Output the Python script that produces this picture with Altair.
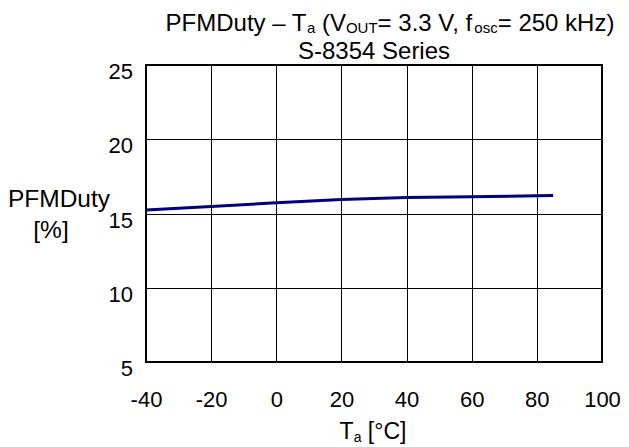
import altair as alt
import pandas as pd

# ---- data ----
temps = [-40, -20, 0, 20, 40, 60, 80, 85]
duty = [15.23, 15.47, 15.72, 15.94, 16.08, 16.12, 16.19, 16.22]
x_ticks = [-40, -20, 0, 20, 40, 60, 80, 100]
y_ticks = [5, 10, 15, 20, 25]
title_line1 = [("PFMDuty \u2013 T", "main"), ("a", "sub"), (" (V", "main"),
               ("OUT", "sub"), ("= 3.3 V, f", "main"), ("osc", "sub"),
               ("= 250 kHz)", "main")]
title_line2 = [("S-8354 Series", "main")]
x_title = [("T", "main"), ("a", "sub"), (" [\u00b0C]", "main")]
y_title_1 = [("PFMDuty", "main")]
y_title_2 = [("[%]", "main")]

FONT = "Liberation Sans"
W, H = 456, 297

# Arial / Liberation Sans advance widths (per 1000 em)
AW = {' ': 278, 'P': 667, 'F': 611, 'M': 833, 'D': 722, 'u': 556,
      't': 278, 'y': 500, '\u2013': 556, 'T': 611, 'a': 556, '(': 333,
      'V': 667, 'O': 778, 'U': 722, '=': 584, '3': 556, '.': 278, ',': 278,
      'f': 278, 'o': 556, 's': 500, 'c': 500, '2': 556, '5': 556, '0': 556,
      'k': 500, 'H': 722, 'z': 500, ')': 333, '[': 278, ']': 278,
      '\u00b0': 400, 'C': 722, 'S': 667, '-': 333, '8': 556, '4': 556,
      'e': 556, 'r': 333, 'i': 222, '%': 889}


def text_w(s, size):
    return sum(AW.get(ch, 556) for ch in s) * size / 1000.0


def pieces_layers(pieces, cx, base_y, main_size, sub_size, sub_dy=2.5):
    sizes = [main_size if kind == "main" else sub_size for _, kind in pieces]
    total = sum(text_w(t, s) for (t, _), s in zip(pieces, sizes))
    x = cx - total / 2.0
    layers = []
    one = pd.DataFrame({"k": [0]})
    for (t, kind), s in zip(pieces, sizes):
        y = base_y + (sub_dy if kind == "sub" else 0)
        stripped = t.lstrip(" ")
        lead = text_w(t[: len(t) - len(stripped)], s)
        layers.append(
            alt.Chart(one).mark_text(
                text=stripped, align="left", baseline="alphabetic", font=FONT,
                fontSize=s, color="black"
            ).encode(x=alt.value(x + lead), y=alt.value(y))
        )
        x += text_w(t, s)
    return layers


df = pd.DataFrame({"Ta": temps, "duty": duty})

minus_fix = "datum.value < 0 ? '-' + abs(datum.value) : '' + datum.value"

line = alt.Chart(df).mark_line(color="#000080", strokeWidth=3).encode(
    x=alt.X("Ta:Q",
            scale=alt.Scale(domain=[-40, 100], nice=False, zero=False),
            axis=alt.Axis(values=x_ticks, title=None, grid=True,
                          ticks=False, tickSize=0, domain=False,
                          labelBaseline="alphabetic", labelPadding=44,
                          labelAlign="center", labelFontSize=22,
                          labelFlush=False, labelExpr=minus_fix)),
    y=alt.Y("duty:Q",
            scale=alt.Scale(domain=[5, 25], nice=False, zero=False),
            axis=alt.Axis(values=y_ticks, title=None, grid=True,
                          ticks=False, tickSize=0, domain=False,
                          labelBaseline="alphabetic", labelOffset=13.5,
                          labelPadding=13.5, labelFontSize=22,
                          labelFlush=False)),
)

layers = [line]
layers += pieces_layers(title_line1, 244, -34.5, 24, 15)
layers += pieces_layers(title_line2, 228, -6.5, 24, 15)
layers += pieces_layers(x_title, 227, 374, 23, 14)
layers += pieces_layers(y_title_1, -87, 142, 24.5, 15)
layers += pieces_layers(y_title_2, -95, 173, 24.5, 15)

chart = alt.layer(*layers).properties(
    width=W, height=H,
    autosize=alt.AutoSizeParams(type="none"),
    padding={"left": 138, "top": 57, "right": 19, "bottom": 83},
    background="white",
).configure_view(
    stroke="black", strokeWidth=2, fill="white"
).configure_axis(
    labelFont=FONT, labelColor="black",
    gridColor="black", gridWidth=1, gridOpacity=1,
)

chart.save("out.html", embed_options={"renderer": "svg", "actions": False})
